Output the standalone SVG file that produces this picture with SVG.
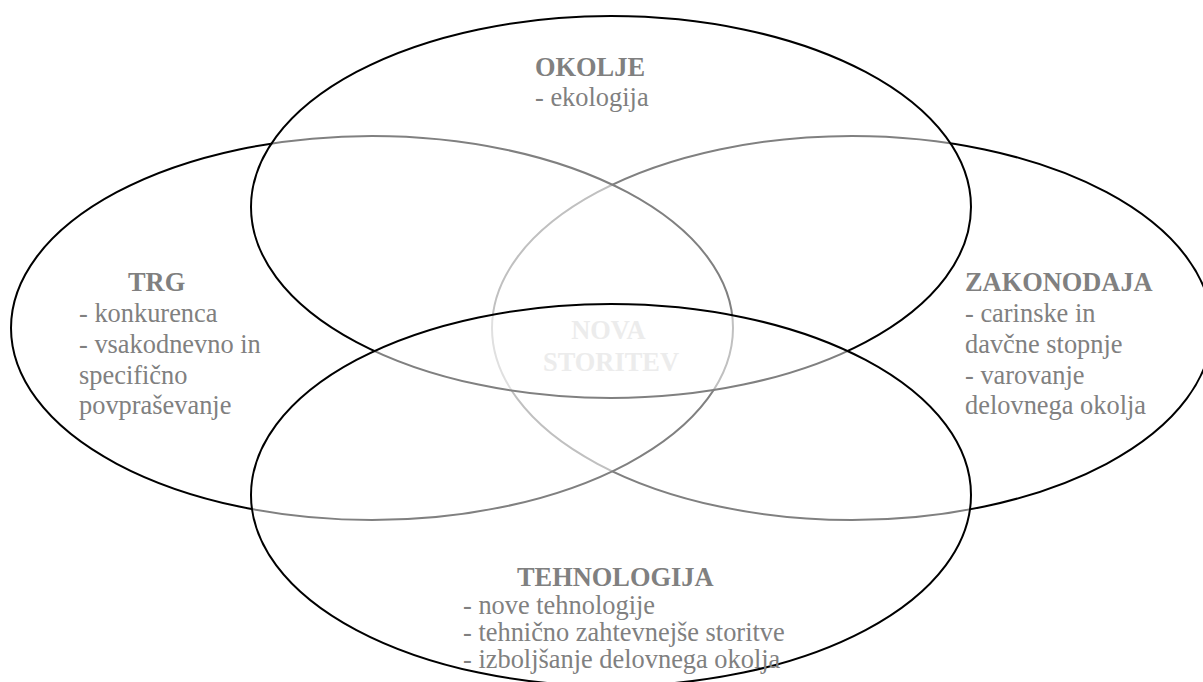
<svg xmlns="http://www.w3.org/2000/svg" width="1203" height="682" viewBox="0 0 1203 682">
  <style>
    .area { fill: #ffffff; fill-opacity: 0.5; stroke: #000000; stroke-width: 2; }
    .lbl { font-family: "Liberation Serif", "Times New Roman", serif; font-size: 26.4px; fill: #808080; }
    .hd { font-weight: bold; }
    .core { font-family: "Liberation Serif", "Times New Roman", serif; font-size: 26.4px; font-weight: bold; fill: #ececec; text-anchor: middle; }
  </style>
  <rect width="1203" height="682" fill="#ffffff"/>

  <!-- Four overlapping areas; each half-transparent fill softens the outlines beneath it -->
  <g id="zakonodaja">
    <ellipse class="area" cx="852" cy="328" rx="360" ry="192"/>
    <text class="lbl">
      <tspan class="hd" x="965" y="291">ZAKONODAJA</tspan>
      <tspan x="965" y="322">- carinske in</tspan>
      <tspan x="965" y="353">davčne stopnje</tspan>
      <tspan x="965" y="384">- varovanje</tspan>
      <tspan x="965" y="414">delovnega okolja</tspan>
    </text>
  </g>

  <g id="trg">
    <ellipse class="area" cx="372" cy="328" rx="361" ry="192"/>
    <text class="lbl">
      <tspan class="hd" x="128" y="291">TRG</tspan>
      <tspan x="79" y="322">- konkurenca</tspan>
      <tspan x="79" y="353">- vsakodnevno in</tspan>
      <tspan x="79" y="384">specifično</tspan>
      <tspan x="79" y="414">povpraševanje</tspan>
    </text>
  </g>

  <g id="okolje">
    <ellipse class="area" cx="611" cy="207" rx="360" ry="191"/>
    <text class="lbl">
      <tspan class="hd" x="535" y="76">OKOLJE</tspan>
      <tspan x="535" y="106">- ekologija</tspan>
    </text>
  </g>

  <g id="tehnologija">
    <ellipse class="area" cx="611" cy="495" rx="360" ry="191"/>
    <text class="lbl">
      <tspan class="hd" x="517" y="586">TEHNOLOGIJA</tspan>
      <tspan x="463" y="614">- nove tehnologije</tspan>
      <tspan x="463" y="641">- tehnično zahtevnejše storitve</tspan>
      <tspan x="463" y="668">- izboljšanje delovnega okolja</tspan>
    </text>
  </g>

  <!-- Shared centre where all four areas meet -->
  <g id="nova-storitev">
    <text class="core">
      <tspan x="611" y="339">NOVA</tspan>
      <tspan x="611" y="371">STORITEV</tspan>
    </text>
  </g>
</svg>
